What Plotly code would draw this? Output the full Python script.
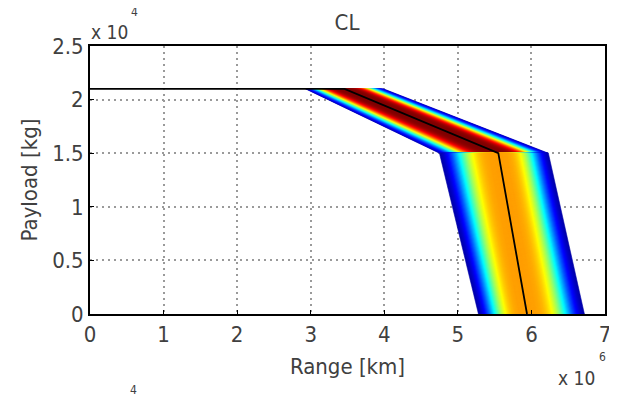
import math
import plotly.graph_objects as go
from plotly.colors import sample_colorscale

# ---- data ----
payload_kg = [2.1e4, 2.1e4, 1.5e4, 0.0]          # payload at the curve break points
range_low_km = [0.0, 2.93e6, 4.75e6, 5.28e6]     # left edge of the band
range_nom_km = [0.0, 3.46e6, 5.55e6, 5.94e6]     # nominal (black) curve
range_high_km = [0.0, 3.99e6, 6.23e6, 6.72e6]    # right edge of the band
segment_peak = [1.0, 0.72]                       # colour level at band centre: upper / lower segment

x_ticks = [0, 1, 2, 3, 4, 5, 6, 7]
x_ticklabels = ["0", "1", "2", "3", "4", "5", "6", "7"]
y_ticks = [0, 0.5, 1, 1.5, 2, 2.5]
y_ticklabels = ["0", "0.5", "1", "1.5", "2", "2.5"]

XS, YS = 1e6, 1e4
jet = [[0.0, "rgb(0,0,128)"], [0.125, "rgb(0,0,255)"], [0.375, "rgb(0,255,255)"],
       [0.625, "rgb(255,255,0)"], [0.875, "rgb(255,0,0)"], [1.0, "rgb(128,0,0)"]]

FONT = "DejaVu Sans Condensed, Liberation Sans Narrow, Liberation Sans, Arial"
TXT = "#404040"

fig = go.Figure()

# shaded band: nested polygons from the outside in, per segment
levels = [1 - k / 50 for k in range(50)]
for (i0, i1), peak in zip([(1, 2), (2, 3)], segment_peak):
    for s in levels:
        c = peak * math.exp(-(1.33 * s) ** 3.7)
        col = sample_colorscale(jet, [min(max(c, 0), 1)])[0]

        def lo(i):
            return (range_nom_km[i] + s * (range_low_km[i] - range_nom_km[i])) / XS

        def hi(i):
            return (range_nom_km[i] + s * (range_high_km[i] - range_nom_km[i])) / XS

        xs = [lo(i0), hi(i0), hi(i1), lo(i1), lo(i0)]
        ys = [payload_kg[i0] / YS, payload_kg[i0] / YS, payload_kg[i1] / YS,
              payload_kg[i1] / YS, payload_kg[i0] / YS]
        fig.add_trace(go.Scatter(x=xs, y=ys, mode="lines", fill="toself",
                                 fillcolor=col, line=dict(color=col, width=0.6),
                                 hoverinfo="skip", showlegend=False))

# nominal payload-range curve
fig.add_trace(go.Scatter(x=[r / XS for r in range_nom_km], y=[p / YS for p in payload_kg],
                         mode="lines", line=dict(color="black", width=1.8),
                         showlegend=False))

axis_common = dict(showgrid=True, gridcolor="#9a9a9a", gridwidth=2, griddash="2px,4px",
                   showline=True, linecolor="black", linewidth=2, mirror=True,
                   ticks="inside", ticklen=4, tickcolor="black", zeroline=False,
                   automargin=False,
                   tickfont=dict(family=FONT, size=22, color=TXT))

# the page body has an 8px default margin, so the figure is 8px smaller than the window
W, H = 609, 388
fig.update_layout(
    width=W, height=H, autosize=False,
    margin=dict(l=82, r=12, t=38, b=82),
    paper_bgcolor="white", plot_bgcolor="white",
    title=dict(text="CL", x=339 / W, xanchor="center", y=1 - 14 / H, yanchor="middle",
               font=dict(family=FONT, size=22, color=TXT)),
    xaxis=dict(range=[0, 7], tickvals=x_ticks, ticktext=x_ticklabels,
               title=dict(text="Range [km]", standoff=12,
                          font=dict(family=FONT, size=22, color=TXT)),
               **axis_common),
    yaxis=dict(range=[0, 2.5], tickvals=y_ticks, ticktext=y_ticklabels,
               title=dict(text="Payload [kg]", standoff=8,
                          font=dict(family=FONT, size=22, color=TXT)),
               **axis_common),
    annotations=[
        dict(text="x 10", xref="paper", yref="paper", x=0, y=1, xanchor="left", yanchor="middle",
             xshift=-1, yshift=14, showarrow=False, font=dict(family=FONT, size=19, color=TXT)),
        dict(text="4", xref="paper", yref="paper", x=0, y=1, xanchor="center", yanchor="middle",
             xshift=44, yshift=34, showarrow=False, font=dict(family=FONT, size=12, color=TXT)),
        dict(text="x 10", xref="paper", yref="paper", x=1, y=0, xanchor="right", yanchor="middle",
             xshift=-8, yshift=-64, showarrow=False, font=dict(family=FONT, size=19, color=TXT)),
        dict(text="6", xref="paper", yref="paper", x=1, y=0, xanchor="center", yanchor="middle",
             xshift=-3, yshift=-43, showarrow=False, font=dict(family=FONT, size=12, color=TXT)),
        dict(text="4", xref="paper", yref="paper", x=0, y=0, xanchor="center", yanchor="middle",
             xshift=43, yshift=-76, showarrow=False, font=dict(family=FONT, size=12, color=TXT)),
    ],
)

fig.write_html("out.html")
